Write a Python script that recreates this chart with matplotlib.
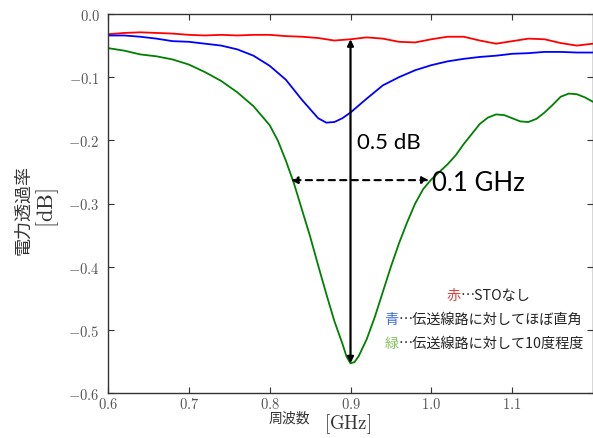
import matplotlib
matplotlib.use("Agg")
import matplotlib.pyplot as plt
from matplotlib.ticker import FuncFormatter

plt.rcParams['mathtext.fontset'] = 'cm'

# ---- data ----
red_x = [0.60, 0.62, 0.64, 0.66, 0.68, 0.70, 0.72, 0.74, 0.76, 0.78, 0.80, 0.82, 0.84, 0.86,
         0.88, 0.90, 0.92, 0.94, 0.96, 0.98, 1.00, 1.02, 1.04, 1.06, 1.08, 1.10, 1.12, 1.14,
         1.16, 1.18, 1.20]
red_y = [-0.032, -0.030, -0.029, -0.030, -0.031, -0.033, -0.034, -0.033, -0.034, -0.033, -0.033,
         -0.035, -0.036, -0.038, -0.042, -0.040, -0.037, -0.039, -0.044, -0.045, -0.040, -0.036,
         -0.036, -0.042, -0.047, -0.043, -0.039, -0.040, -0.046, -0.050, -0.047]

blue_x = [0.60, 0.62, 0.64, 0.66, 0.68, 0.70, 0.72, 0.74, 0.76, 0.78, 0.80, 0.82, 0.84, 0.86,
          0.87, 0.88, 0.89, 0.90, 0.92, 0.94, 0.96, 0.98, 1.00, 1.02, 1.04, 1.06, 1.08, 1.10,
          1.12, 1.14, 1.16, 1.18, 1.20]
blue_y = [-0.034, -0.034, -0.036, -0.039, -0.043, -0.044, -0.047, -0.050, -0.056, -0.066, -0.082,
          -0.104, -0.136, -0.165, -0.172, -0.171, -0.165, -0.156, -0.134, -0.113, -0.100, -0.089,
          -0.081, -0.075, -0.071, -0.068, -0.066, -0.063, -0.062, -0.060, -0.060, -0.061, -0.061]

green_x = [0.60, 0.62, 0.64, 0.66, 0.68, 0.70, 0.72, 0.74, 0.76, 0.78, 0.80, 0.81, 0.82, 0.83,
           0.84, 0.85, 0.86, 0.87, 0.88, 0.89, 0.895, 0.90, 0.905, 0.91, 0.92, 0.93, 0.94, 0.95,
           0.96, 0.97, 0.98, 0.99, 1.00, 1.01, 1.02, 1.03, 1.04, 1.05, 1.06, 1.07, 1.08, 1.09,
           1.10, 1.11, 1.12, 1.13, 1.14, 1.15, 1.16, 1.17, 1.18, 1.19, 1.20]
green_y = [-0.054, -0.058, -0.064, -0.067, -0.072, -0.080, -0.092, -0.106, -0.124, -0.146, -0.176,
           -0.200, -0.232, -0.268, -0.310, -0.352, -0.398, -0.443, -0.486, -0.522, -0.542, -0.553,
           -0.551, -0.542, -0.515, -0.480, -0.440, -0.400, -0.363, -0.330, -0.300, -0.277, -0.262,
           -0.250, -0.238, -0.224, -0.206, -0.190, -0.174, -0.164, -0.159, -0.160, -0.165, -0.170,
           -0.171, -0.166, -0.156, -0.144, -0.131, -0.126, -0.127, -0.132, -0.139]

x_ticks = [0.6, 0.7, 0.8, 0.9, 1.0, 1.1]
y_ticks = [0.0, -0.1, -0.2, -0.3, -0.4, -0.5, -0.6]

# annotation values
vert_x, vert_top, vert_bottom = 0.9, -0.040, -0.553
horiz_y, horiz_left, horiz_right = -0.263, 0.826, 0.997

legend_lines = [("赤", "…STOなし", "#e0443c"),
                ("青", "…伝送線路に対してほぼ直角", "#3d6fe0"),
                ("緑", "…伝送線路に対して10度程度", "#86c25e")]

# ---- figure ----
fig = plt.figure(figsize=(5.93, 4.39), dpi=100)
W, H = 593, 439
ax = fig.add_axes([108 / W, 1 - 394 / H, (593 - 108) / W, (394 - 15) / H])

ax.plot(red_x, red_y, color='#ff0000', lw=1.3)
ax.plot(blue_x, blue_y, color='#0000ff', lw=1.3)
ax.plot(green_x, green_y, color='#008000', lw=1.3)

ax.set_xlim(0.6, 1.2)
ax.set_ylim(-0.6, 0.0)
ax.set_xticks(x_ticks)
ax.set_yticks(y_ticks)
fmt = FuncFormatter(lambda v, p: r'$%.1f$' % v)
ax.xaxis.set_major_formatter(fmt)
ax.yaxis.set_major_formatter(fmt)
ax.tick_params(direction='in', length=4, width=0.8, top=True, right=True,
               labelsize=10.5, colors='#333333', labelcolor='#555555')
ax.tick_params(axis='x', pad=2)
ax.tick_params(axis='y', pad=6)
for s in ax.spines.values():
    s.set_color('#333333')
    s.set_linewidth(1.0)

# annotations
ax.annotate('', xy=(vert_x, vert_bottom), xytext=(vert_x, vert_top),
            arrowprops=dict(arrowstyle='<|-|>', color='black', lw=1.6,
                            mutation_scale=9, shrinkA=0, shrinkB=0))
ax.annotate('', xy=(horiz_left, horiz_y), xytext=(horiz_right, horiz_y),
            arrowprops=dict(arrowstyle='<|-|>', color='black', lw=1.5, ls=(0, (3, 2.5)),
                            mutation_scale=10, shrinkA=0, shrinkB=0))
ax.text(0.9075, -0.203, '0.5 dB', family='Lato', fontsize=16, va='center', ha='left')
ax.text(1.001, -0.266, '0.1 GHz', family='Lato', fontsize=18.5, va='center', ha='left')

# legend-like text block
cjk = ['Noto Sans CJK JP', 'DejaVu Sans']
starts = [(447, 296), (384, 320), (385, 344)]
for (ch, rest, col), (px, py) in zip(legend_lines, starts):
    t = fig.text(px / W, 1 - py / H, ch, color=col, family=cjk, fontsize=10.2,
                 ha='left', va='center')
    ax.annotate(rest, xy=(1, 0.5), xycoords=t, ha='left', va='center',
                family=cjk, fontsize=10.2, color='#222222')

# axis labels
fig.text(289 / W, 1 - 419 / H, '周波数', family=cjk, fontsize=10, ha='center', va='center',
         color='#333333')
fig.text(348 / W, 1 - 424 / H, r'$[\mathrm{GHz}]$', fontsize=13.5, ha='center', va='center',
         color='#333333')
fig.text(23 / W, 1 - 210 / H, '電力透過率', family=cjk, fontsize=13, ha='center', va='center',
         rotation=90, color='#333333')
fig.text(48 / W, 1 - 208 / H, r'$[\mathrm{dB}]$', fontsize=16, ha='center', va='center',
         rotation=90, color='#333333')

fig.savefig('out.png', dpi=100)
